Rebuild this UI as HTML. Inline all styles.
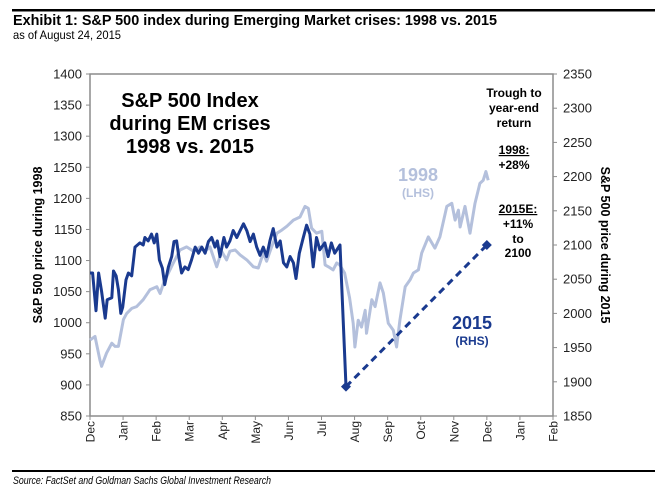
<!DOCTYPE html>
<html><head><meta charset="utf-8"><style>
html,body{margin:0;padding:0;background:#fff;}
svg{display:block;font-family:"Liberation Sans",Arial,sans-serif;}
</style></head><body>
<svg id="chart" width="662" height="490" viewBox="0 0 662 490" xmlns="http://www.w3.org/2000/svg">
<rect x="0" y="0" width="662" height="490" fill="#fff"/>
<rect x="12" y="9" width="643" height="2.5" fill="#000"/>
<text x="13" y="25" font-size="15" font-weight="bold" textLength="484" lengthAdjust="spacingAndGlyphs">Exhibit 1: S&amp;P 500 index during Emerging Market crises: 1998 vs. 2015</text>
<text x="13" y="39" font-size="12" textLength="108" lengthAdjust="spacingAndGlyphs">as of August 24, 2015</text>
<rect x="12" y="470" width="643" height="2" fill="#000"/>
<text x="13" y="484" font-size="11" font-style="italic" textLength="258" lengthAdjust="spacingAndGlyphs">Source: FactSet and Goldman Sachs Global Investment Research</text>
<g id="axes"></g>
<g id="series"></g>
<g id="annotations">
<text x="190" y="107" font-size="20" font-weight="bold" text-anchor="middle">S&amp;P 500 Index</text>
<text x="190" y="130" font-size="20" font-weight="bold" text-anchor="middle">during EM crises</text>
<text x="190" y="153" font-size="20" font-weight="bold" text-anchor="middle">1998 vs. 2015</text>
<text x="418" y="181" font-size="18" font-weight="bold" fill="#b4c0dc" text-anchor="middle">1998</text>
<text x="418" y="197" font-size="12" font-weight="bold" fill="#b4c0dc" text-anchor="middle">(LHS)</text>
<text x="472" y="329" font-size="18" font-weight="bold" fill="#1a3a8f" text-anchor="middle">2015</text>
<text x="472" y="345" font-size="12" font-weight="bold" fill="#1a3a8f" text-anchor="middle">(RHS)</text>
<g font-size="12" font-weight="bold" text-anchor="middle">
<text x="514" y="97">Trough to</text>
<text x="514" y="112">year-end</text>
<text x="514" y="127">return</text>
<text x="514" y="154" text-decoration="underline">1998:</text>
<text x="514" y="169">+28%</text>
<text x="518" y="213" text-decoration="underline">2015E:</text>
<text x="518" y="228">+11%</text>
<text x="518" y="243">to</text>
<text x="518" y="257">2100</text>
</g>
</g>
</svg>
<script>
// ---- data ----
const monthLabels = ["Dec","Jan","Feb","Mar","Apr","May","Jun","Jul","Aug","Sep","Oct","Nov","Dec","Jan","Feb"];
const leftTicks = [850,900,950,1000,1050,1100,1150,1200,1250,1300,1350,1400];
const rightTicks = [1850,1900,1950,2000,2050,2100,2150,2200,2250,2300,2350];
// 1998 series (LHS): x in months from Dec tick
const x1998 = [0,.15,.30,.35,.50,.66,.76,.86,1.01,1.11,1.26,1.41,1.61,1.81,2.02,2.12,2.22,2.37,2.52,2.72,2.92,3.13,3.33,3.48,3.63,3.83,3.98,4.13,4.23,4.39,4.54,4.74,4.94,5.09,5.24,5.34,5.49,5.65,5.80,5.95,6.15,6.35,6.50,6.60,6.70,6.85,7.01,7.11,7.21,7.35,7.46,7.55,7.70,7.85,7.96,8.01,8.11,8.21,8.32,8.36,8.52,8.62,8.77,8.87,9.02,9.17,9.27,9.37,9.53,9.68,9.78,9.93,10.03,10.23,10.43,10.58,10.79,10.94,11.04,11.14,11.19,11.34,11.49,11.64,11.79,11.89,11.97,12.04];
const v1998 = [972,978,940,930,951,967,962,962,1005,1015,1023,1026,1037,1053,1058,1047,1063,1080,1096,1117,1122,1115,1122,1115,1122,1090,1115,1101,1115,1117,1109,1101,1090,1088,1112,1099,1122,1144,1149,1155,1165,1170,1187,1184,1152,1144,1147,1093,1090,1085,1096,1093,1080,1040,999,961,1004,993,1020,983,1037,1026,1064,1048,999,988,961,1004,1058,1069,1080,1085,1112,1138,1120,1138,1187,1192,1165,1181,1154,1187,1144,1192,1224,1229,1243,1229];
// 2015 series (RHS)
const x2015 = [0,.08,.18,.26,.35,.46,.52,.66,.71,.79,.86,.93,.99,1.09,1.16,1.26,1.36,1.51,1.61,1.66,1.76,1.86,1.94,2.02,2.10,2.19,2.26,2.37,2.47,2.54,2.62,2.70,2.77,2.87,2.97,3.07,3.18,3.28,3.38,3.48,3.58,3.68,3.78,3.85,3.93,4.05,4.13,4.23,4.33,4.44,4.54,4.64,4.74,4.84,4.94,5.04,5.14,5.24,5.34,5.44,5.54,5.65,5.75,5.85,5.95,6.05,6.15,6.23,6.33,6.45,6.55,6.65,6.75,6.85,6.95,7.10,7.20,7.30,7.40,7.56,7.74];
const v2015 = [2059,2059,2004,2059,2032,1993,2020,2023,2062,2055,2035,2000,2009,2049,2059,2055,2097,2103,2100,2111,2106,2116,2103,2116,2078,2066,2042,2068,2083,2105,2106,2078,2059,2068,2064,2078,2097,2088,2097,2088,2105,2111,2097,2106,2083,2111,2097,2106,2121,2111,2121,2131,2121,2105,2116,2097,2085,2097,2083,2106,2124,2097,2106,2074,2068,2083,2074,2051,2088,2111,2129,2116,2068,2111,2093,2103,2083,2103,2088,2100,1893];
const xProjection = [7.74, 12];
const vProjection = [1893, 2100];

// ---- scales ----
const PL=90, PR=553, PT=74, PB=416;
const xs = m => PL + m*(PR-PL)/(monthLabels.length-1);
const yL = v => PB - (v-850)*(PB-PT)/550;
const yR = v => PB - (v-1850)*(PB-PT)/500;
const NS="http://www.w3.org/2000/svg";
function mk(tag, attrs, parent){const e=document.createElementNS(NS,tag);for(const k in attrs)e.setAttribute(k,attrs[k]);parent.appendChild(e);return e;}
const axes=document.getElementById('axes'), ser=document.getElementById('series');

const frame = mk('rect',{x:PL,y:PT,width:PR-PL,height:PB-PT,fill:'none',stroke:'#8c8c8c','stroke-width':1.5},axes);



leftTicks.forEach(v=>{
  const y=yL(v);
  const t=mk('line',{x1:PL-4,x2:PL,y1:y,y2:y,stroke:'#8c8c8c','stroke-width':1},axes);
  
  
  const l=mk('text',{x:PL-8,y:y+4.5,'font-size':13,'text-anchor':'end',fill:'#222'},axes);
  l.textContent=v;
  
  
});
rightTicks.forEach(v=>{
  const y=yR(v);
  const t=mk('line',{x1:PR,x2:PR+4,y1:y,y2:y,stroke:'#8c8c8c','stroke-width':1},axes);
  
  
  const l=mk('text',{x:PR+10,y:y+4.5,'font-size':13,fill:'#222'},axes);
  l.textContent=v;
  
  
});
monthLabels.forEach((m,i)=>{
  const x=xs(i);
  const t=mk('line',{x1:x,x2:x,y1:PB,y2:PB+4,stroke:'#8c8c8c','stroke-width':1},axes);
  
  
  const l=mk('text',{x:0,y:0,'font-size':12,'text-anchor':'end',fill:'#222',transform:`translate(${x+4.5},${PB+5}) rotate(-90)`},axes);
  l.textContent=m;
  
  
});
const lt=mk('text',{x:0,y:0,'font-size':12.5,'font-weight':'bold','text-anchor':'middle',transform:'translate(42,245) rotate(-90)'},axes);
lt.textContent='S&P 500 price during 1998';


const rt=mk('text',{x:0,y:0,'font-size':12.5,'font-weight':'bold','text-anchor':'middle',transform:'translate(601,245) rotate(90)'},axes);
rt.textContent='S&P 500 price during 2015';



function pathOf(xa,va,yf){return xa.map((x,i)=>(i?'L':'M')+xs(x).toFixed(1)+','+yf(va[i]).toFixed(1)).join('');}
const p98=mk('path',{d:pathOf(x1998,v1998,yL),fill:'none',stroke:'#b4c0dc','stroke-width':3,'stroke-linejoin':'round'},ser);


const p15=mk('path',{d:pathOf(x2015,v2015,yR),fill:'none',stroke:'#1a3a8f','stroke-width':3,'stroke-linejoin':'round'},ser);


const pp=mk('path',{d:pathOf(xProjection,vProjection,yR),fill:'none',stroke:'#1a3a8f','stroke-width':3,'stroke-dasharray':'7,5'},ser);


xProjection.forEach((x,i)=>{
  const cx=xs(x), cy=yR(vProjection[i]);
  const d=mk('path',{d:`M${cx},${cy-5}L${cx+5},${cy}L${cx},${cy+5}L${cx-5},${cy}Z`,fill:'#1a3a8f'},ser);
  
  
});
</script>
</body></html>
